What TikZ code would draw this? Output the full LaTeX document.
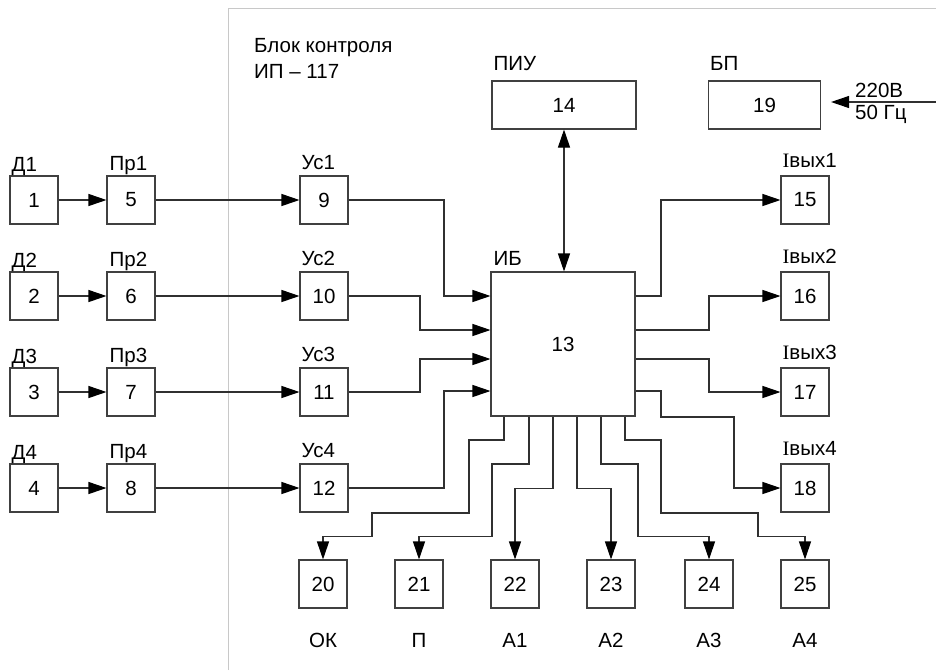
\documentclass[tikz,border=0pt]{standalone}
\usepackage{fontspec}
\setmainfont{Liberation Sans}
\newfontfamily\serifI{Liberation Serif}
\usetikzlibrary{arrows.meta,calc}
\definecolor{boxc}{HTML}{404040}
\definecolor{linec}{HTML}{303030}
\definecolor{framec}{HTML}{C8C8C8}
\begin{document}
\begin{tikzpicture}[x=1pt,y=-1pt,font=\fontsize{20.5}{24}\selectfont,
  blk/.style={draw=boxc,line width=1.1pt,minimum width=48pt,minimum height=48pt,inner sep=0pt},
  lbl/.style={anchor=base west,inner sep=0pt},
  con/.style={draw=linec,line width=1.1pt},
  arr/.style={con,-{Triangle[length=18pt,width=12pt,color=black,fill=black]}},
  arrtwo/.style={con,{Triangle[length=18pt,width=12pt,color=black,fill=black]}-{Triangle[length=18pt,width=12pt,color=black,fill=black]}},
  framel/.style={draw=framec,line width=1pt}]
\useasboundingbox (0,0) rectangle (936,670);
% clipped heading
\node[anchor=base west,inner sep=0pt,font=\fontsize{24}{28}\selectfont\bfseries] (hd) at (5,-2) {схема};
% frame
\draw[framel] (228,670) -- (228,8) -- (936,8);
\node[lbl] (t1) at (254,52) {Блок контроля};
\node[lbl] (t2) at (254,78) {ИП – 117};
% left columns
\foreach \i/\y in {1/200,2/296,3/392,4/488}{
  \node[blk] (n\i) at (34,\y) {\i};
  \node[lbl] at ([xshift=2pt,yshift=4pt]n\i.north west) {Д\i};
}
\foreach \i/\j/\y in {5/1/200,6/2/296,7/3/392,8/4/488}{
  \node[blk] (n\i) at (131,\y) {\i};
  \node[lbl] at ([xshift=3pt,yshift=5pt]n\i.north west) {Пр\j};
}
\foreach \i/\j/\y in {9/1/200,10/2/296,11/3/392,12/4/488}{
  \node[blk] (n\i) at (324,\y) {\i};
  \node[lbl] at ([xshift=2pt,yshift=6pt]n\i.north west) {Ус\j};
}
% central
\node[blk,minimum width=144pt,minimum height=144pt] (n13) at (563,344) {13};
\node[lbl] at ([xshift=3pt,yshift=6pt]n13.north west) {ИБ};
\node[blk,minimum width=144pt] (n14) at (564,105) {14};
\node[lbl] at ([xshift=2pt,yshift=10pt]n14.north west) {ПИУ};
\node[blk,minimum width=112pt] (n19) at (764.5,105) {19};
\node[lbl] at ([xshift=2pt,yshift=10pt]n19.north west) {БП};
% right column
\foreach \i/\j/\y in {15/1/200,16/2/296,17/3/392,18/4/488}{
  \node[blk] (n\i) at (805,\y) {\i};
  \node[lbl] at ([xshift=2pt,yshift=8pt]n\i.north west) {{\serifI I}вых\j};
}
% bottom row
\foreach \i/\x/\t in {20/323/ОК,21/419/П,22/515/А1,23/611/А2,24/709/А3,25/805/А4}{
  \node[blk] (n\i) at (\x,584) {\i};
  \node[inner sep=0pt] (l\i) at (\x,640) {\t};
}
% connectors left
\foreach \a/\b in {1/5,2/6,3/7,4/8,5/9,6/10,7/11,8/12}{
  \draw[arr] (n\a) -- (n\b);
}
\draw[arr] (n9.east) -| (444,296) -- ([yshift=48pt]n13.west);
\draw[arr] (n10.east) -| (420,330) -- ([yshift=14pt]n13.west);
\draw[arr] (n11.east) -| (420,359) -- ([yshift=-15pt]n13.west);
\draw[arr] (n12.east) -| (444,391) -- ([yshift=-47pt]n13.west);
% connectors right
\draw[arr] ([yshift=48pt]n13.east) -| (661,200) -- (n15.west);
\draw[arr] ([yshift=14pt]n13.east) -| (709,296) -- (n16.west);
\draw[arr] ([yshift=-15pt]n13.east) -| (709,392) -- (n17.west);
\draw[arr] ([yshift=-47pt]n13.east) -| (661,417) -| (734,488) -- (n18.west);
% connectors bottom
\draw[arr] ([xshift=-59pt]n13.south) |- (469,440) |- (372,513) |- ([yshift=23pt]n20.north) -- (n20.north);
\draw[arr] ([xshift=-34pt]n13.south) |- (492,464) |- ([yshift=23pt]n21.north) -- (n21.north);
\draw[arr] ([xshift=-10pt]n13.south) |- ([yshift=71pt]n22.north) -- (n22.north);
\draw[arr] ([xshift=14pt]n13.south) |- ([yshift=71pt]n23.north) -- (n23.north);
\draw[arr] ([xshift=38pt]n13.south) |- (638,464) |- ([yshift=23pt]n24.north) -- (n24.north);
\draw[arr] ([xshift=62pt]n13.south) |- (661,440) |- (758,513) |- ([yshift=23pt]n25.north) -- (n25.north);
% PIU link
\draw[arrtwo] (n14.south) -- (n14.south |- n13.north);
% power input
\coordinate (pwr) at (936,102);
\draw[arr,shorten >=10pt] (pwr) -- (pwr -| n19.east);
\node[lbl] (v1) at (855,97) {220В};
\node[lbl] (v2) at (855,119) {50 Гц};
\end{tikzpicture}
\end{document}
